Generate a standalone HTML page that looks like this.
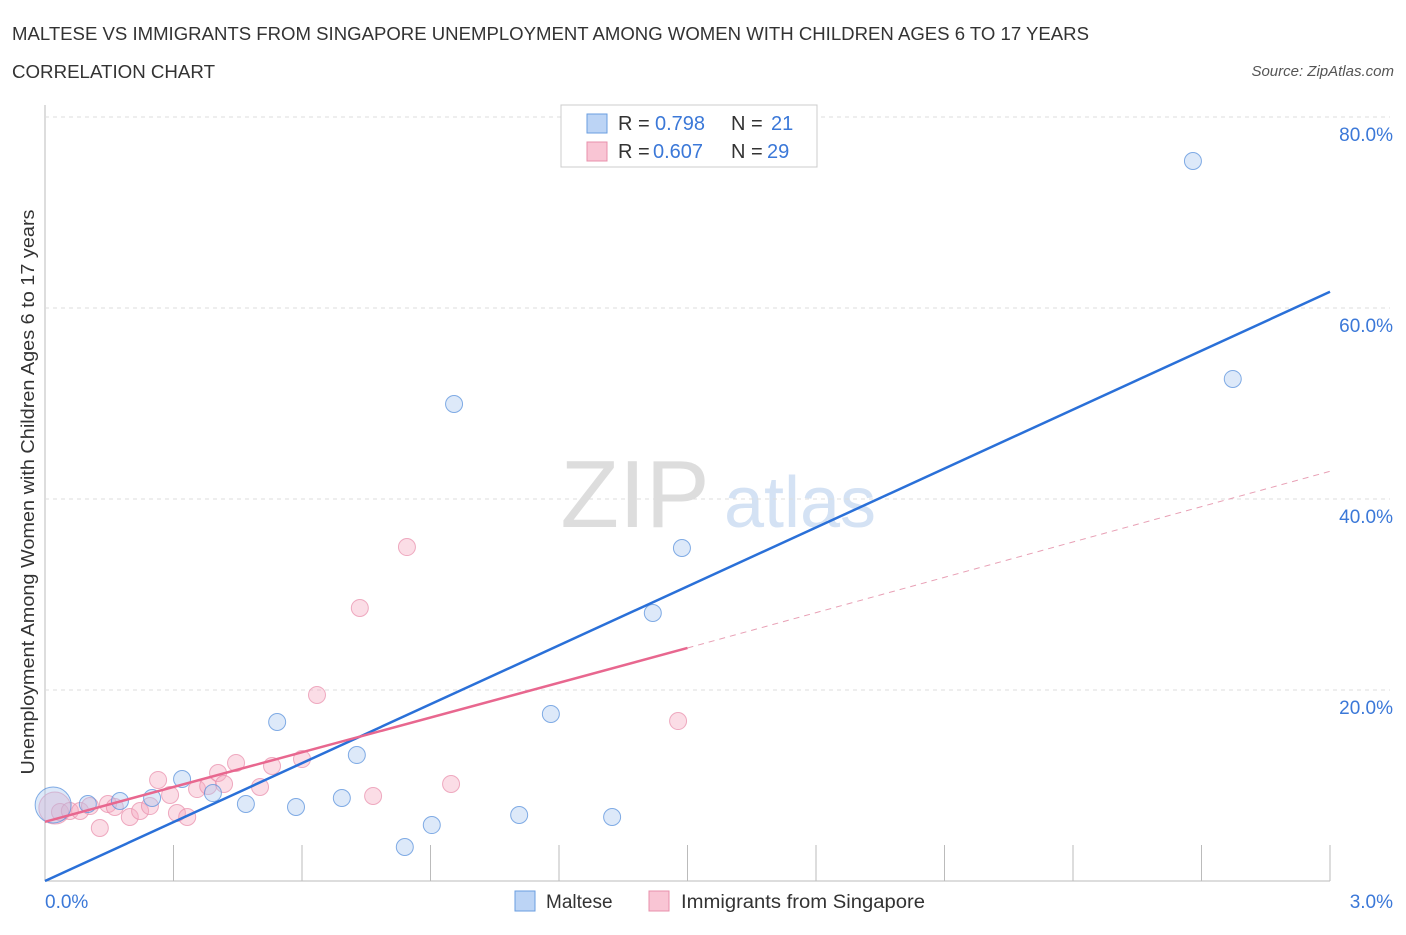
<!DOCTYPE html>
<html><head><meta charset="utf-8"><style>
body{margin:0;background:#fff;font-family:"Liberation Sans",sans-serif;}
svg text{font-family:"Liberation Sans",sans-serif;}
</style></head><body>
<svg id="c" width="1406" height="930">
<text x="12" y="40" font-size="18" fill="#333" textLength="1077" lengthAdjust="spacingAndGlyphs">MALTESE VS IMMIGRANTS FROM SINGAPORE UNEMPLOYMENT AMONG WOMEN WITH CHILDREN AGES 6 TO 17 YEARS</text>
<text x="12" y="78" font-size="18" fill="#333" textLength="203" lengthAdjust="spacingAndGlyphs">CORRELATION CHART</text>
<text x="1394" y="76" font-size="15" fill="#555" font-style="italic" text-anchor="end">Source: ZipAtlas.com</text>
<text x="34" y="492" font-size="18" fill="#333" text-anchor="middle" textLength="565" lengthAdjust="spacingAndGlyphs" transform="rotate(-90 34 492)">Unemployment Among Women with Children Ages 6 to 17 years</text>
<g><text x="635" y="527" font-size="96" fill="#ddd" text-anchor="middle" font-family="Liberation Serif">ZIP</text><text x="800" y="527" font-size="72" fill="#d4e2f4" text-anchor="middle">atlas</text></g>
<g id="grid"></g><g id="marks"></g>
<g>
<rect x="561" y="105" width="256" height="62" fill="#fff" stroke="#ccc"/>
<rect x="587" y="114" width="20" height="19" fill="#bcd4f5" stroke="#6a9ee0"/>
<rect x="587" y="142" width="20" height="19" fill="#f9c5d4" stroke="#e890ab"/>
<text x="618" y="130" font-size="20" fill="#333">R =</text><text x="655" y="130" font-size="20" fill="#3b78d8">0.798</text>
<text x="731" y="130" font-size="20" fill="#333">N =</text><text x="771" y="130" font-size="20" fill="#3b78d8">21</text>
<text x="618" y="158" font-size="20" fill="#333">R =</text><text x="653" y="158" font-size="20" fill="#3b78d8">0.607</text>
<text x="731" y="158" font-size="20" fill="#333">N =</text><text x="767" y="158" font-size="20" fill="#3b78d8">29</text>
</g>
<g>
<rect x="515" y="891" width="20" height="20" fill="#bcd4f5" stroke="#6a9ee0"/>
<text x="546" y="908" font-size="19" fill="#333">Maltese</text>
<rect x="649" y="891" width="20" height="20" fill="#f9c5d4" stroke="#e890ab"/>
<text x="681" y="908" font-size="19" fill="#333" textLength="244" lengthAdjust="spacingAndGlyphs">Immigrants from Singapore</text>
</g>
</svg>
<script>
const xTicks=[0,0.3,0.6,0.9,1.2,1.5,1.8,2.1,2.4,2.7,3.0];
const yTicks=[20,40,60,80];
const blueX=[0.019,0.100,0.175,0.250,0.320,0.392,0.469,0.542,0.586,0.693,0.728,0.840,0.903,0.955,1.107,1.181,1.324,1.419,1.487,2.680,2.773];
const blueY=[7.96,8.06,8.38,8.69,10.68,9.21,8.06,16.65,7.75,8.69,13.19,3.56,5.86,49.95,6.91,17.49,6.70,28.06,34.87,75.39,52.57];
const pinkX=[0.023,0.035,0.058,0.082,0.105,0.128,0.147,0.163,0.198,0.222,0.245,0.264,0.292,0.308,0.332,0.355,0.381,0.404,0.418,0.446,0.502,0.530,0.600,0.635,0.735,0.766,0.845,0.948,1.478];
const pinkY=[7.64,7.23,7.33,7.33,7.85,5.55,8.06,7.75,6.70,7.33,7.85,10.58,9.01,7.12,6.70,9.63,9.95,11.31,10.16,12.36,9.84,12.04,12.77,19.48,28.59,8.90,34.97,10.16,16.75];
const blueLine=[0,0,3.0,61.7];
const pinkLine=[0,6.2,1.5,24.4,3.0,42.9];
const X=v=>45+v/3*1285, Y=v=>881-v*9.55;
const NS="http://www.w3.org/2000/svg";
function mk(p,t,a){const e=document.createElementNS(NS,t);for(const k in a)e.setAttribute(k,a[k]);p.appendChild(e);return e;}
const g=document.getElementById('grid'),m=document.getElementById('marks');
const ax=mk(g,'line',{x1:45,y1:105,x2:45,y2:881,stroke:'#bbb'});


const bx=mk(g,'line',{x1:45,y1:881,x2:1330,y2:881,stroke:'#bbb'});


yTicks.forEach(t=>{const l=mk(g,'line',{x1:45,y1:Y(t),x2:1390,y2:Y(t),stroke:'#ddd','stroke-dasharray':'4 4'});


const tx=mk(g,'text',{x:1393,y:Y(t)+24,'font-size':19,fill:'#3b78d8','text-anchor':'end'});tx.textContent=t.toFixed(1)+'%';

});
xTicks.forEach((t,i)=>{if(i>0){const l=mk(g,'line',{x1:X(t),y1:845,x2:X(t),y2:881,stroke:'#bbb'});

}});
[[0,'0.0%','start',45],[3,'3.0%','end',1393]].forEach(a=>{const tx=mk(g,'text',{x:a[3],y:908,'font-size':19,fill:'#3b78d8','text-anchor':a[2]});tx.textContent=a[1];

});
pinkX.forEach((x,i)=>{const c=mk(m,'circle',{cx:X(x),cy:Y(pinkY[i]),r:i==0?16:8.5,fill:'rgba(246,170,192,0.4)',stroke:'rgba(232,140,170,0.7)'});

});
blueX.forEach((x,i)=>{const c=mk(m,'circle',{cx:X(x),cy:Y(blueY[i]),r:i==0?18:8.5,fill:'rgba(170,200,240,0.4)',stroke:'rgba(90,145,220,0.75)'});

});
const bl=mk(m,'line',{x1:X(blueLine[0]),y1:Y(blueLine[1]),x2:X(blueLine[2]),y2:Y(blueLine[3]),stroke:'#2a70d8','stroke-width':2.5});


const pl=mk(m,'line',{x1:X(pinkLine[0]),y1:Y(pinkLine[1]),x2:X(pinkLine[2]),y2:Y(pinkLine[3]),stroke:'#e8678f','stroke-width':2.5});


const pd=mk(m,'line',{x1:X(pinkLine[2]),y1:Y(pinkLine[3]),x2:X(pinkLine[4]),y2:Y(pinkLine[5]),stroke:'#e8a0b5','stroke-width':1,'stroke-dasharray':'6 5'});


</script>
</body></html>
